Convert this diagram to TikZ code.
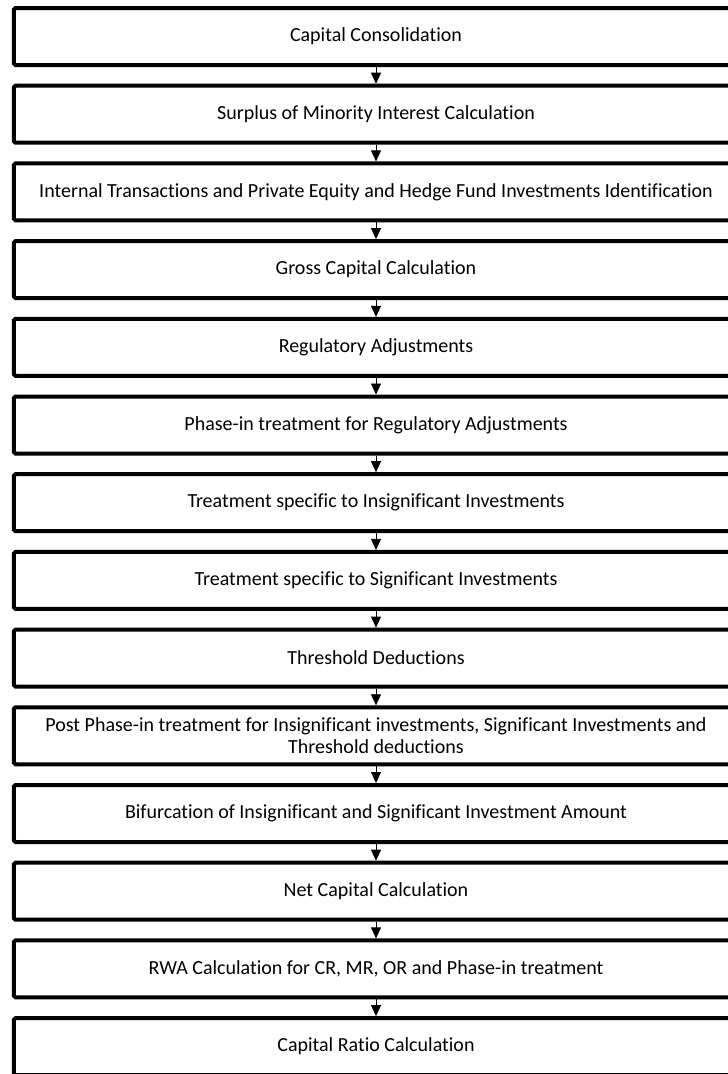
\documentclass[tikz,border=0pt]{standalone}
\usepackage{fontspec}
\setmainfont{Carlito}[Ligatures=NoCommon]
\usetikzlibrary{arrows.meta, positioning}

\tikzset{
    stage/.style={draw, line width=4bp, rounded corners=1.5bp, minimum width=724bp,
        minimum height=57bp, inner sep=0pt, align=center,
        font=\fontsize{20bp}{22bp}\selectfont},
    flow/.style={line width=0.8bp, -{Triangle[width=10bp, length=11bp]}}
}

\begin{document}
\begin{tikzpicture}[x=1bp, y=1bp]
    \useasboundingbox (0,0) rectangle (728,-1074);
    % stages of the capital computation
    \foreach \i/\txt in {
        1/{Capital Consolidation},
        2/{Surplus of Minority Interest Calculation},
        3/{Internal Transactions and Private Equity and Hedge Fund Investments Identification},
        4/{Gross Capital Calculation},
        5/{Regulatory Adjustments},
        6/{Phase-in treatment for Regulatory Adjustments},
        7/{Treatment specific to Insignificant Investments},
        8/{Treatment specific to Significant Investments},
        9/{Threshold Deductions},
        10/{Post Phase-in treatment for Insignificant investments, Significant Investments and\\Threshold deductions},
        11/{Bifurcation of Insignificant and Significant Investment Amount},
        12/{Net Capital Calculation},
        13/{RWA Calculation for CR, MR, OR and Phase-in treatment},
        14/{Capital Ratio Calculation}} {
        \node[stage] (s\i) at (376, -36.5 - \i*77.7 + 77.7) {\txt};
    }
    % arrows between consecutive stages
    \foreach \i [evaluate=\i as \j using int(\i+1)] in {1,...,13} {
        \draw[flow] (s\i.south) -- (s\j.north);
    }
\end{tikzpicture}
\end{document}
